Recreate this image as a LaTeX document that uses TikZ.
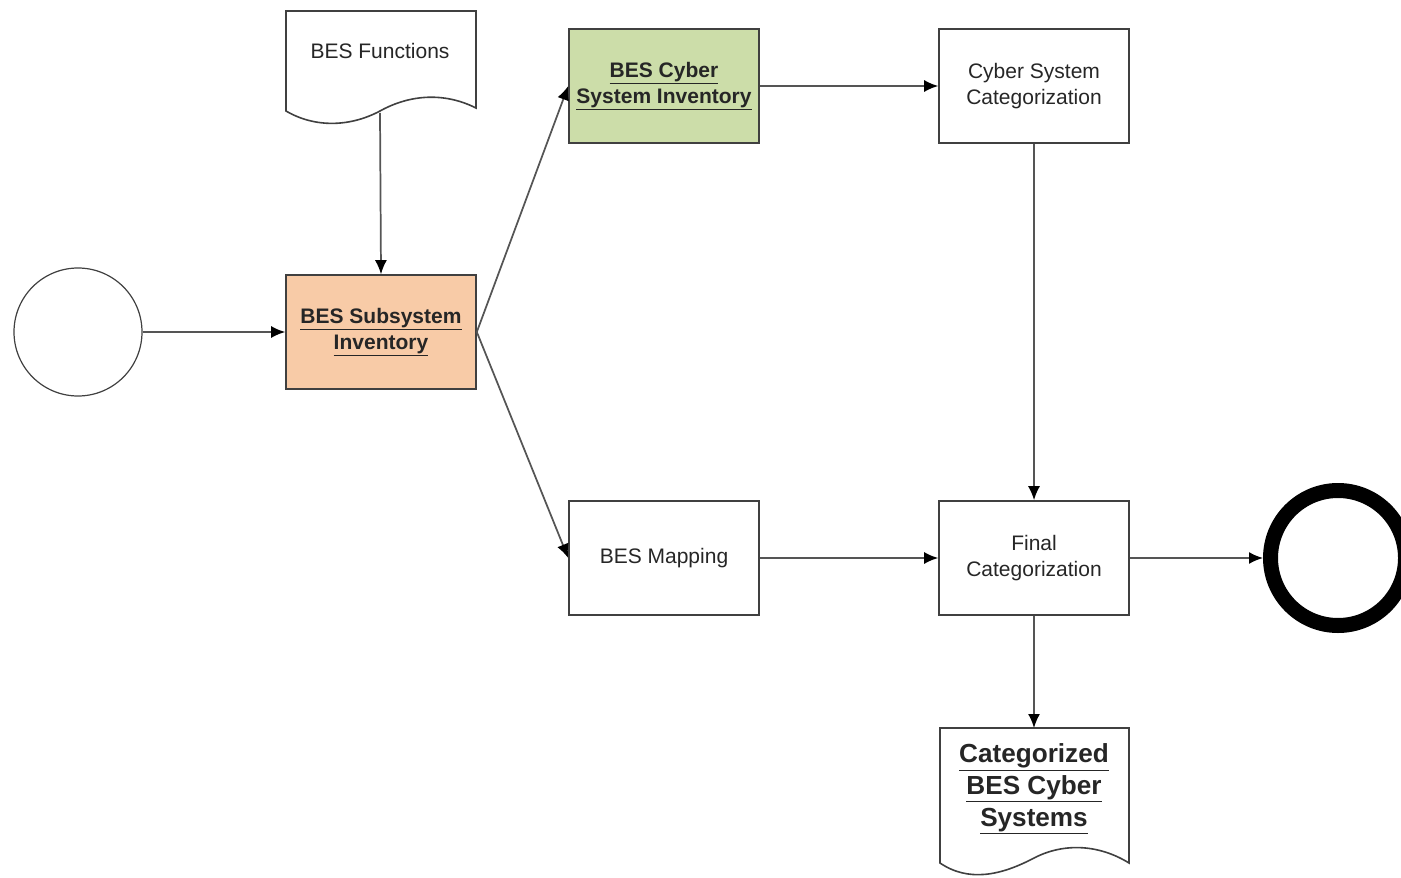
\documentclass[tikz,border=0pt]{standalone}
\usepackage{fontspec}
\setmainfont{Liberation Sans}
\usetikzlibrary{arrows.meta}
\definecolor{boxline}{HTML}{404040}
\definecolor{conncol}{HTML}{555555}
\definecolor{txt}{HTML}{262626}
\definecolor{peach}{HTML}{F8CBA7}
\definecolor{sage}{HTML}{CCDDA9}
\begin{document}
\begin{tikzpicture}[x=0.75pt,y=-0.75pt,
  every node/.style={text=txt, font=\fontsize{15.75}{19.5}\selectfont},
  box/.style={draw=boxline, line width=1.2pt, rectangle, minimum width=142.5pt, minimum height=85.5pt, align=center, inner sep=2pt},
  boldtxt/.style={font=\fontsize{15.75}{19.5}\selectfont\bfseries},
  doctext/.style={align=center, inner sep=0pt},
  docshape/.style={draw=boxline, line width=1.2pt, fill=white},
  conn/.style={draw=conncol, line width=1.3pt, -{Latex[length=10.5pt,width=9pt,color=black]}},
  startev/.style={circle, draw=boxline, line width=0.9pt, minimum size=96pt, inner sep=0pt},
  endev/.style={circle, draw=black, line width=11.25pt, minimum size=101.25pt, inner sep=0pt}]
\useasboundingbox (0,0) rectangle (1401,877);

% document shapes
\draw[docshape] (286,11) -- (476,11) -- (476,108)
  .. controls (440,90) and (405,97) .. (380,111)
  .. controls (350,127) and (315,128) .. (286,111) -- cycle;
\node[doctext] (func) at (380,51) {BES Functions};
\coordinate (funcbot) at (380,113);

\draw[docshape] (940,728) -- (1129,728) -- (1129,863)
  .. controls (1100,845) and (1065,842) .. (1034,858)
  .. controls (1000,876) and (968,882) .. (940,863) -- cycle;
\node[doctext, font=\fontsize{19.6}{24}\selectfont\bfseries] (catdoc) at (1034,789)
  {\underline{Categorized}\\\underline{BES Cyber}\\\underline{Systems}};
\coordinate (catdoctop) at (1034,728);

% events
\node[startev] (start) at (78,332) {};
\node[endev] (end) at (1338,558) {};

% boxes
\node[box, fill=peach, boldtxt] (inv) at (381,332) {\underline{BES Subsystem}\\\underline{Inventory}};
\node[box, fill=sage, boldtxt] (cyb) at (664,86) {\underline{BES Cyber}\\\underline{System Inventory}};
\node[box] (cat) at (1034,86) {Cyber System\\Categorization};
\node[box] (map) at (664,558) {BES Mapping};
\node[box] (fin) at (1034,558) {Final\\Categorization};

% connectors
\draw[conn] (funcbot) -- (inv.north);
\draw[conn] (start) -- (inv.west);
\draw[conn] (inv.east) -- (cyb.west);
\draw[conn] (inv.east) -- (map.west);
\draw[conn] (cyb.east) -- (cat.west);
\draw[conn] (cat.south) -- (fin.north);
\draw[conn] (map.east) -- (fin.west);
\draw[conn] (fin.east) -- (end.west);
\draw[conn] (fin.south) -- (catdoctop);
\end{tikzpicture}
\end{document}
